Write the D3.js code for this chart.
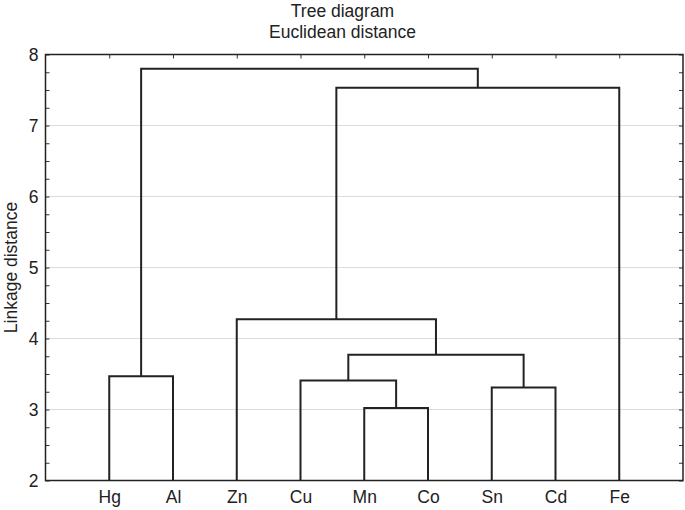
<!DOCTYPE html>
<html>
<head>
<meta charset="utf-8">
<script src="https://cdn.jsdelivr.net/npm/d3@7"></script>
<style>
  body { margin: 0; background: #fff; }
  text { font-family: "Liberation Sans", Arial, sans-serif; fill: #222; }
  .axis path { display: none; }
  .axis line { stroke: #333; stroke-width: 1; }
</style>
</head>
<body>
<div id="chart"></div>
<script>
// leaf order along the x axis
const leaves = ["Hg", "Al", "Zn", "Cu", "Mn", "Co", "Sn", "Cd", "Fe"];
// linkage table: [left id, right id, distance]; ids 0..8 = leaves, 9.. = earlier merges
const merges = [
  [4, 5, 3.02],   // 9  Mn+Co
  [6, 7, 3.31],   // 10 Sn+Cd
  [3, 9, 3.41],   // 11 Cu+(Mn,Co)
  [0, 1, 3.47],   // 12 Hg+Al
  [11, 10, 3.77], // 13
  [2, 13, 4.27],  // 14 Zn+...
  [14, 8, 7.53],  // 15 ...+Fe
  [12, 15, 7.80]  // 16 all
];
const yTicks = [2, 3, 4, 5, 6, 7, 8];

var width = 685,
    height = 510,
    margin = {top: 54.5, right: 2, bottom: 29.5, left: 45.5},
    fontSize = "17.5px";

var svg = d3.select("#chart").append("svg")
    .attr("width", width)
    .attr("height", height);

var x = d3.scalePoint()
    .domain(leaves)
    .range([margin.left, width - margin.right])
    .padding(1);

var y = d3.scaleLinear()
    .domain([2, 8])
    .range([height - margin.bottom, margin.top]);

// gridlines
svg.append("g")
  .selectAll("line")
  .data(yTicks.slice(1, -1))
  .enter().append("line")
    .attr("x1", margin.left)
    .attr("x2", width - margin.right)
    .attr("y1", function(d) { return y(d); })
    .attr("y2", function(d) { return y(d); })
    .attr("stroke", "#dcdcdc")
    .attr("stroke-width", 1);

// minor ticks every 0.25
var minor = d3.range(2, 8.001, 0.25);

svg.append("g")
    .attr("class", "axis")
    .attr("transform", "translate(" + margin.left + ",0)")
    .call(d3.axisLeft(y).tickValues(minor).tickSize(-4).tickFormat(""));

svg.append("g")
    .attr("class", "axis")
    .attr("transform", "translate(" + (width - margin.right) + ",0)")
    .call(d3.axisRight(y).tickValues(minor).tickSize(-4).tickFormat(""));

svg.append("g")
    .attr("class", "axis")
    .attr("transform", "translate(0," + margin.top + ")")
    .call(d3.axisTop(x).tickSize(-4).tickFormat(""));

// y labels
var yAxis = svg.append("g")
    .attr("class", "axis")
    .attr("transform", "translate(" + margin.left + ",0)")
    .call(d3.axisLeft(y).tickValues(yTicks).tickSize(0).tickPadding(7).tickFormat(d3.format("d")));
yAxis.selectAll("text")
    .style("font-size", fontSize)
    .style("font-family", "Liberation Sans, Arial, sans-serif")
    .attr("fill", "#222");

// x labels
var xAxis = svg.append("g")
    .attr("class", "axis")
    .attr("transform", "translate(0," + (height - margin.bottom) + ")")
    .call(d3.axisBottom(x).tickSize(0).tickPadding(10));
xAxis.selectAll("text")
    .style("font-size", fontSize)
    .style("font-family", "Liberation Sans, Arial, sans-serif")
    .attr("fill", "#222");

// dendrogram links
var nodeX = leaves.map(function(d) { return x(d); });
var nodeY = leaves.map(function() { return y(2); });

var paths = [];
merges.forEach(function(m) {
  var a = m[0], b = m[1], yh = y(m[2]);
  paths.push("M" + nodeX[a] + "," + nodeY[a] + "V" + yh + "H" + nodeX[b] + "V" + nodeY[b]);
  nodeX.push((nodeX[a] + nodeX[b]) / 2);
  nodeY.push(yh);
});

svg.append("g")
  .selectAll("path")
  .data(paths)
  .enter().append("path")
    .attr("d", function(d) { return d; })
    .attr("fill", "none")
    .attr("stroke", "#222")
    .attr("stroke-width", 2);

// frame
svg.append("rect")
    .attr("x", margin.left)
    .attr("y", margin.top)
    .attr("width", width - margin.right - margin.left)
    .attr("height", height - margin.bottom - margin.top)
    .attr("fill", "none")
    .attr("stroke", "#222")
    .attr("stroke-width", 1.5);

// titles, centred on the whole figure
svg.append("text")
    .attr("x", width / 2)
    .attr("y", 17)
    .attr("text-anchor", "middle")
    .style("font-size", fontSize)
    .text("Tree diagram");

svg.append("text")
    .attr("x", width / 2)
    .attr("y", 38)
    .attr("text-anchor", "middle")
    .style("font-size", fontSize)
    .text("Euclidean distance");

svg.append("text")
    .attr("transform", "translate(17," + (margin.top + height - margin.bottom) / 2 + ")rotate(-90)")
    .attr("text-anchor", "middle")
    .style("font-size", fontSize)
    .text("Linkage distance");
</script>
</body>
</html>
